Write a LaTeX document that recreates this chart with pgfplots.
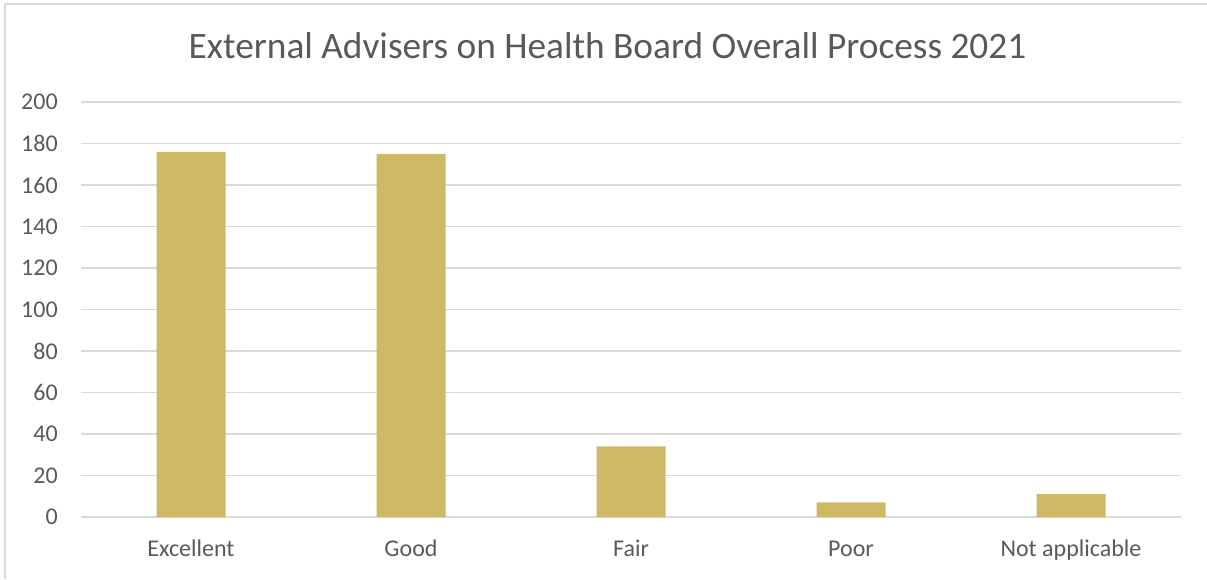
\documentclass[border=0pt]{standalone}
\usepackage{pgfplots}
\pgfplotsset{compat=1.18}
\usepackage{fontspec}
\setmainfont{Carlito}
\definecolor{barcol}{RGB}{206,185,102}
\definecolor{txtcol}{RGB}{89,89,89}
\definecolor{gridcol}{RGB}{217,217,217}
\begin{document}
\begin{tikzpicture}
\useasboundingbox (0,0) rectangle (905.25pt,434.25pt);
\draw[gridcol, line width=1.2pt] (3.75pt,0) -- (3.75pt,431.25pt) -- (905.25pt,431.25pt);
\node[anchor=base, text=txtcol, font=\fontsize{28}{33}\selectfont, inner sep=0pt] at (455.6pt,390.5pt) {External Advisers on Health Board Overall Process 2021};
\begin{axis}[
  at={(60.75pt,46.5pt)}, anchor=south west,
  scale only axis, width=825pt, height=311.25pt,
  xmin=-0.5, xmax=4.5, ymin=0, ymax=200,
  enlarge x limits=false, enlarge y limits=false,
  ytick={0,20,...,200},
  xtick={0,1,2,3,4},
  xticklabels={Excellent,Good,Fair,Poor,Not applicable},
  axis line style={draw=none},
  major tick length=0pt,
  ymajorgrids,
  grid style={gridcol, line width=1.2pt},
  /pgf/number format/assume math mode=true,
  tick label style={text=txtcol, font=\fontsize{18}{21}\selectfont},
  yticklabel style={anchor=east, inner sep=0pt, xshift=-17.25pt},
  xticklabel style={anchor=base, inner sep=0pt, yshift=-29.25pt},
  ybar, bar width=51.75pt,
]
\addplot[fill=barcol, draw=none, bar shift=0pt] coordinates {(0,176) (1,175) (2,34) (3,7) (4,11)};
\end{axis}
\end{tikzpicture}
\end{document}
